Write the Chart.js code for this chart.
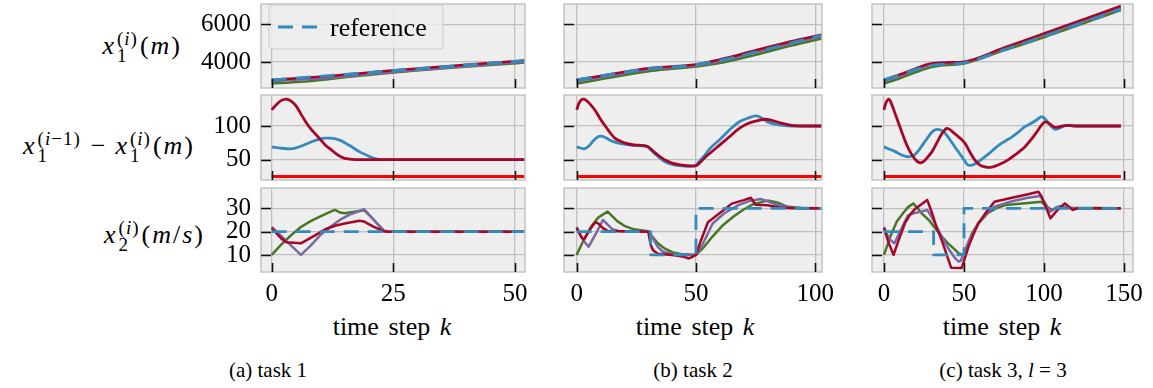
<!DOCTYPE html>
<html>
<head>
<meta charset="utf-8">
<script src="https://cdn.jsdelivr.net/npm/chart.js@4.4.1/dist/chart.umd.min.js"></script>
<style>
  html, body { margin: 0; padding: 0; background: #fff; }
  body { position: relative; width: 1153px; height: 388px; overflow: hidden; font-family: "Liberation Serif", "DejaVu Serif", serif; color: #000; }
  canvas { position: absolute; }
  .ylab { position: absolute; font-size: 26px; line-height: 30px; letter-spacing: 2px; white-space: nowrap; }
  .ss { display: inline-block; vertical-align: -8px; font-size: 19px; line-height: 17px; letter-spacing: 1px; text-align: left; margin: 0 2px 0 1px; }
  .ss span { display: block; }
  .op { margin: 0 8px; }
  .xlab { position: absolute; width: 300px; margin-left: -150px; text-align: center; font-size: 26px; line-height: 30px; word-spacing: 3px; white-space: nowrap; }
  .cap { position: absolute; width: 300px; margin-left: -150px; text-align: center; font-size: 21px; line-height: 24px; white-space: nowrap; }
</style>
</head>
<body>

<div class="ylab" style="right:971px; top:30px"><i>x</i><span class="ss"><span>(<i>i</i>)</span><span>1</span></span>(<i>m</i>)</div>
<div class="ylab" style="right:958px; top:130px"><i>x</i><span class="ss"><span>(<i>i</i>−1)</span><span>1</span></span><span class="op">−</span><i>x</i><span class="ss"><span>(<i>i</i>)</span><span>1</span></span>(<i>m</i>)</div>
<div class="ylab" style="right:948px; top:219px"><i>x</i><span class="ss"><span>(<i>i</i>)</span><span>2</span></span>(<i>m</i>/<i>s</i>)</div>

<div class="xlab" style="left:392px; top:312px">time step <i>k</i></div>
<div class="xlab" style="left:695px; top:312px">time step <i>k</i></div>
<div class="xlab" style="left:1002px; top:312px">time step <i>k</i></div>

<div class="cap" style="left:268px; top:358px">(a) task 1</div>
<div class="cap" style="left:693px; top:358px">(b) task 2</div>
<div class="cap" style="left:1003px; top:358px">(c) task 3, <i>l</i> = 3</div>

<script>
// axes
const kTicks = [[0, 25, 50], [0, 50, 100], [0, 50, 100, 150]]
const kRange = [[-2.2, 52.05], [-5.3, 102.8], [-7.5, 155.6]]
const yTicks = [[4000, 6000], [50, 100], [10, 20, 30]]
const yRange = [[2621, 7077], [19.9, 146], [2.7, 38.7]]
const kEnd = [52, 103, 148]
const safeGap = 25

// task 1
const t1PosRef = [[0,3045],[13,3300],[26,3560],[39,3815],[52,4070]]
const t1PosRed = [[0,3050],[6,3150],[12,3255],[18,3395],[24,3535],[52,4080]]
const t1PosPurple = [[0,2985],[6,3075],[12,3165],[18,3310],[24,3455],[52,4015]]
const t1PosGreen = [[0,2855],[6,2950],[12,3100],[18,3270],[24,3420],[52,3975]]
const t1GapRed = [[0,124],[1,132],[2,138],[3,140],[4,137],[5,130],[6,118],[7,106],[8,96],[9,88],[10,80],[11,72],[12,66],[13,60],[14,55],[15,52],[16,51],[18,50],[52,50]]
const t1GapBlue = [[0,69],[2,67],[4,66],[6,70],[8,76],[10,81],[11,82],[12,82],[14,79],[16,71],[18,62],[20,55],[21,52],[23,50],[52,50]]
const t1VelRef = [[0,20],[52,20]]
const t1VelRed = [[0,21.5],[2,17],[3,15.5],[6,15],[9,18.5],[11,21],[13,22.5],[15,23.5],[18,24.7],[19,24.3],[21,22],[23,20.2],[24,20],[52,20]]
const t1VelPurple = [[0,22],[3,16],[6,10],[8,14],[10,18.5],[12,22],[14,25],[16,27.3],[18,28.8],[19,29.6],[21,25],[23,20.5],[24,20],[52,20]]
const t1VelGreen = [[0,10],[2,14.5],[4,18.5],[6,22],[8,24.5],[10,26.5],[12,28.5],[13,29.3],[14,28.2],[15,27.9],[17,28.5],[19,29.2],[21,25],[23,20.3],[24,20],[52,20]]

// task 2
const t2PosRef = [[0,3045],[31,3660],[50,3850],[103,5420]]
const t2PosRed = [[0,3055],[10,3260],[31,3680],[50,3870],[60,4130],[75,4620],[90,5100],[103,5460]]
const t2PosPurple = [[0,2990],[10,3180],[31,3610],[50,3810],[60,4040],[75,4520],[90,4990],[103,5380]]
const t2PosGreen = [[0,2855],[10,3080],[31,3520],[50,3760],[60,3940],[75,4380],[90,4870],[103,5260]]
const t2GapRed = [[0,124],[1,134],[2,139],[3,140],[4,138],[6,131],[8,122],[10,110],[12,100],[14,90],[16,82],[18,78],[20,75],[24,72],[28,71],[30,69],[32,63],[34,57],[36,52],[38,48],[40,45],[44,42],[48,41],[50,41],[52,47],[54,54],[56,60],[60,72],[64,84],[68,96],[72,104],[76,108],[79,110],[82,108],[86,104],[90,101],[95,100],[103,100]]
const t2GapBlue = [[0,69],[2,67],[3,66],[5,70],[7,78],[9,84],[10,85],[12,83],[14,79],[16,76],[20,73],[24,71],[29,70],[31,65],[33,58],[35,52],[37,47],[40,43],[44,41],[48,40],[50,42],[52,50],[54,58],[56,67],[60,80],[64,94],[68,106],[72,112],[75,115],[77,113],[80,106],[84,102],[90,100],[103,100]]
const t2VelRef = [[0,20],[31,10],[50,30],[103,30]]
const t2VelRed = [[0,21.5],[2,17.5],[3,16.5],[5,20],[7,23],[8,24],[9,23.5],[11,21.5],[13,20.3],[30,20],[31,14.5],[32,12],[34,10.5],[40,10],[45,9.2],[47,8.5],[48,9],[50,10],[52,16],[55,24],[60,28],[65,32],[70,33.5],[73,34.5],[75,31.5],[80,31.3],[85,30.3],[90,30],[103,30]]
const t2VelPurple = [[0,22],[3,16],[5,13.5],[8,19],[11,25],[13,23],[15,21],[18,20.2],[30,20],[32,17],[34,13.5],[36,11.5],[40,10.3],[50,10],[53,15],[57,23.5],[62,28],[68,31.5],[72,33],[77,34],[80,33],[84,31.5],[90,30.2],[103,30]]
const t2VelGreen = [[0,10],[3,16.5],[6,22],[9,26],[13,28.6],[15,26.5],[17,24.5],[20,22.5],[24,21],[30,20.2],[32,17.5],[34,15],[37,12.7],[40,11.2],[44,10.3],[50,10],[53,13],[57,18],[61,22.5],[66,26.7],[70,29.5],[74,31.8],[80,33.3],[84,32.5],[88,30.8],[95,30],[103,30]]

// task 3
const t3PosRef = [[0,3060],[10,3320],[20,3600],[28,3790],[38,3880],[50,3950],[75,4650],[100,5360],[148,6810]]
const t3PosRed = [[0,3050],[10,3340],[20,3660],[28,3900],[38,3980],[50,4020],[75,4760],[100,5520],[148,6970]]
const t3PosPurple = [[0,2990],[10,3260],[20,3570],[28,3830],[38,3930],[50,3980],[75,4700],[100,5440],[148,6880]]
const t3PosGreen = [[0,2860],[10,3140],[20,3460],[28,3690],[38,3830],[50,3920],[75,4620],[100,5310],[148,6760]]
const t3GapRed = [[0,124],[1,133],[3,140],[5,131],[7,118],[9,105],[11,92],[13,79],[15,68],[17,59],[19,52],[21,47],[23,45.5],[25,48],[27,53],[30,62],[33,75],[36,88],[38,94],[39,96.5],[41,95],[43,91],[45,87],[48,81],[51,73],[54,60],[57,48.5],[60,42],[63,39.5],[65,38.7],[68,39.5],[72,43],[76,47.5],[80,54],[84,61],[88,69],[92,80],[96,93],[99,103],[101,106],[103,104],[106,99],[108,98],[111,100],[115,101],[120,100],[148,100]]
const t3GapBlue = [[0,69],[3,66],[7,62],[11,57],[15,54.4],[17,55],[19,57],[22,65],[25,75],[28,85],[31,93],[33,95],[35,94.5],[37,92],[40,84],[42,77],[44,70],[47,60],[50,50],[52,43],[54,41.5],[57,44],[60,49],[64,56],[68,64],[72,72],[76,78],[80,84],[84,91],[88,99],[92,104],[96,110],[98.5,114],[100,112],[103,104],[105,98],[107,95],[110,97],[114,101],[118,100],[148,100]]
const t3VelRef = [[0,20],[31,10],[50,30],[148,30]]
const t3VelRed = [[0,21.5],[3,15],[6,10],[9,16],[13,23.5],[16,27],[19,29.5],[23,31.5],[27,33.6],[30,28],[33,21.5],[36,16.5],[39,10.5],[42,4.5],[48.5,4.4],[50,7.5],[53,14],[56,19],[59,23.6],[63,27.5],[69,32.8],[80,34.5],[90,36],[96.5,37.1],[98.5,35],[104,25.7],[108,29],[113,32.1],[118,29.3],[121,30],[148,30]]
const t3VelPurple = [[0,22],[3,17],[6.5,15],[10,20],[15,27],[19,28],[23,28.5],[27,29.3],[30,26],[33,22],[36,18],[40,13],[44,9],[46.5,7.2],[48,7.5],[49.5,10],[53,16],[56,20],[59,23.6],[63,27],[69,30.7],[80,33],[90,34.5],[97.5,35.3],[100,33],[104,28.6],[108,30.6],[112,30.6],[118,30],[148,30]]
const t3VelGreen = [[0,10],[4,18],[8,24.3],[12,28],[15,30.5],[18.3,32.1],[21,30],[24,27.5],[28,25],[32,21.5],[36,18],[40,15],[44,12.5],[47,10.5],[50.5,10],[52,14],[55,19.3],[59,23.5],[65,28],[70,30],[76,31.4],[90,32.3],[98.5,32.8],[101,31],[105,29.3],[110,30.9],[115,30.2],[148,30]]

const tasks = [
  { pos: [t1PosRef, t1PosRed, t1PosPurple, t1PosGreen], gap: [t1GapRed, t1GapBlue], vel: [t1VelRef, t1VelRed, t1VelPurple, t1VelGreen] },
  { pos: [t2PosRef, t2PosRed, t2PosPurple, t2PosGreen], gap: [t2GapRed, t2GapBlue], vel: [t2VelRef, t2VelRed, t2VelPurple, t2VelGreen] },
  { pos: [t3PosRef, t3PosRed, t3PosPurple, t3PosGreen], gap: [t3GapRed, t3GapBlue], vel: [t3VelRef, t3VelRed, t3VelPurple, t3VelGreen] }
]

// layout (page pixels of each plot area)
const colLeft = [261, 564, 872], colRight = [525, 822, 1133]
const rowTop = [4, 95, 188], rowBottom = [88, 180, 272]

const BLUE = '#348ABD', RED = '#A60628', PURPLE = '#7A68A6', GREEN = '#467821'
const dash = [15, 9]
const serif = '"Liberation Serif", "DejaVu Serif", serif'
const pts = a => a.map(([x, y]) => ({ x, y }))

const panelStyle = {
  id: 'panelStyle',
  beforeDraw(chart) {
    const { ctx, chartArea: a } = chart
    ctx.save()
    ctx.fillStyle = '#eeeeee'
    ctx.fillRect(a.left, a.top, a.width, a.height)
    ctx.restore()
  },
  afterDraw(chart) {
    const { ctx, chartArea: a, scales } = chart
    ctx.save()
    ctx.strokeStyle = '#c4c4c4'
    ctx.lineWidth = 1.5
    ctx.strokeRect(a.left, a.top, a.width, a.height)
    ctx.strokeStyle = '#111'
    ctx.lineWidth = 1.6
    ctx.beginPath()
    scales.x.ticks.forEach(t => {
      const px = Math.round(scales.x.getPixelForValue(t.value)) + 0.5
      ctx.moveTo(px, a.bottom)
      ctx.lineTo(px, a.bottom - 9)
    })
    scales.y.ticks.forEach(t => {
      const py = Math.round(scales.y.getPixelForValue(t.value)) + 0.5
      ctx.moveTo(a.left, py)
      ctx.lineTo(a.left + 10, py)
    })
    ctx.stroke()
    ctx.restore()
  }
}

const legendBox = {
  id: 'legendBox',
  beforeDatasetsDraw(chart) {
    const { ctx, chartArea: a } = chart
    const ds = chart.data.datasets[0]
    const x = a.left + 8, y = a.top + 1, w = 174, h = 44
    ctx.save()
    ctx.fillStyle = 'rgba(238,238,238,0.8)'
    ctx.strokeStyle = '#cccccc'
    ctx.lineWidth = 1
    ctx.beginPath()
    ctx.roundRect(x, y, w, h, 3)
    ctx.fill()
    ctx.stroke()
    ctx.strokeStyle = ds.borderColor
    ctx.lineWidth = ds.borderWidth
    ctx.setLineDash(ds.borderDash)
    ctx.beginPath()
    ctx.moveTo(x + 9, y + 22)
    ctx.lineTo(x + 55, y + 22)
    ctx.stroke()
    ctx.setLineDash([])
    ctx.fillStyle = '#000'
    ctx.font = '26px ' + serif
    ctx.textBaseline = 'alphabetic'
    ctx.fillText(ds.label, x + 61, y + 31)
    ctx.restore()
  }
}

function panel(col, row, datasets, extra) {
  const L = col === 0 ? 80 : 16
  const B = row === 2 ? 40 : 4
  const R = 24
  const x0 = colLeft[col] - L, y0 = rowTop[row] - 4
  const w = colRight[col] + R - x0, h = rowBottom[row] + B - y0
  const cv = document.createElement('canvas')
  cv.width = w
  cv.height = h
  cv.style.left = x0 + 'px'
  cv.style.top = y0 + 'px'
  document.body.appendChild(cv)

  return new Chart(cv, {
    type: 'line',
    data: { datasets },
    options: {
      responsive: false,
      animation: false,
      events: [],
      layout: { padding: { top: 4, right: R, left: 0, bottom: 0 } },
      elements: { point: { radius: 0 }, line: { fill: false, borderJoinStyle: 'round' } },
      plugins: { legend: { display: false }, tooltip: { enabled: false } },
      scales: {
        x: {
          type: 'linear',
          min: kRange[col][0],
          max: kRange[col][1],
          afterBuildTicks: s => { s.ticks = kTicks[col].map(v => ({ value: v })) },
          afterFit: s => { s.height = B; s.paddingLeft = 0; s.paddingRight = 0 },
          grid: { color: '#c0c0c0', lineWidth: 1.3, drawTicks: false },
          border: { display: false },
          ticks: { display: row === 2, color: '#000', font: { family: serif, size: 25 }, padding: 7, maxRotation: 0, autoSkip: false, callback: v => String(v) }
        },
        y: {
          type: 'linear',
          min: yRange[row][0],
          max: yRange[row][1],
          afterBuildTicks: s => { s.ticks = yTicks[row].map(v => ({ value: v })) },
          afterFit: s => { s.width = L; s.paddingTop = 0; s.paddingBottom = 0 },
          grid: { color: '#c0c0c0', lineWidth: 1.3, drawTicks: false },
          border: { display: false },
          ticks: { display: col === 0, color: '#000', font: { family: serif, size: 25 }, padding: 10, autoSkip: false, callback: v => String(v) }
        }
      }
    },
    plugins: [panelStyle].concat(extra || [])
  })
}

tasks.forEach((t, col) => {
  // positions
  panel(col, 0, [
    { label: 'reference', data: pts(t.pos[0]), borderColor: BLUE, borderWidth: 3, borderDash: dash, cubicInterpolationMode: 'monotone' },
    { data: pts(t.pos[1]), borderColor: RED, borderWidth: 2.5, cubicInterpolationMode: 'monotone' },
    { data: pts(t.pos[2]), borderColor: PURPLE, borderWidth: 2.5, cubicInterpolationMode: 'monotone' },
    { data: pts(t.pos[3]), borderColor: GREEN, borderWidth: 2.5, cubicInterpolationMode: 'monotone' }
  ], col === 0 ? [legendBox] : [])

  // inter-vehicle distance
  panel(col, 1, [
    { data: pts(t.gap[0]), borderColor: RED, borderWidth: 2.8, cubicInterpolationMode: 'monotone' },
    { data: pts(t.gap[1]), borderColor: BLUE, borderWidth: 2.8, cubicInterpolationMode: 'monotone' },
    { data: [{ x: 0, y: safeGap }, { x: kEnd[col], y: safeGap }], borderColor: '#ff0000', borderWidth: 3 }
  ])

  // velocities
  panel(col, 2, [
    { data: pts(t.vel[0]), borderColor: BLUE, borderWidth: 2.8, borderDash: dash, stepped: 'before' },
    { data: pts(t.vel[1]), borderColor: RED, borderWidth: 2.5 },
    { data: pts(t.vel[2]), borderColor: PURPLE, borderWidth: 2.5 },
    { data: pts(t.vel[3]), borderColor: GREEN, borderWidth: 2.5 }
  ])
})
</script>
</body>
</html>
